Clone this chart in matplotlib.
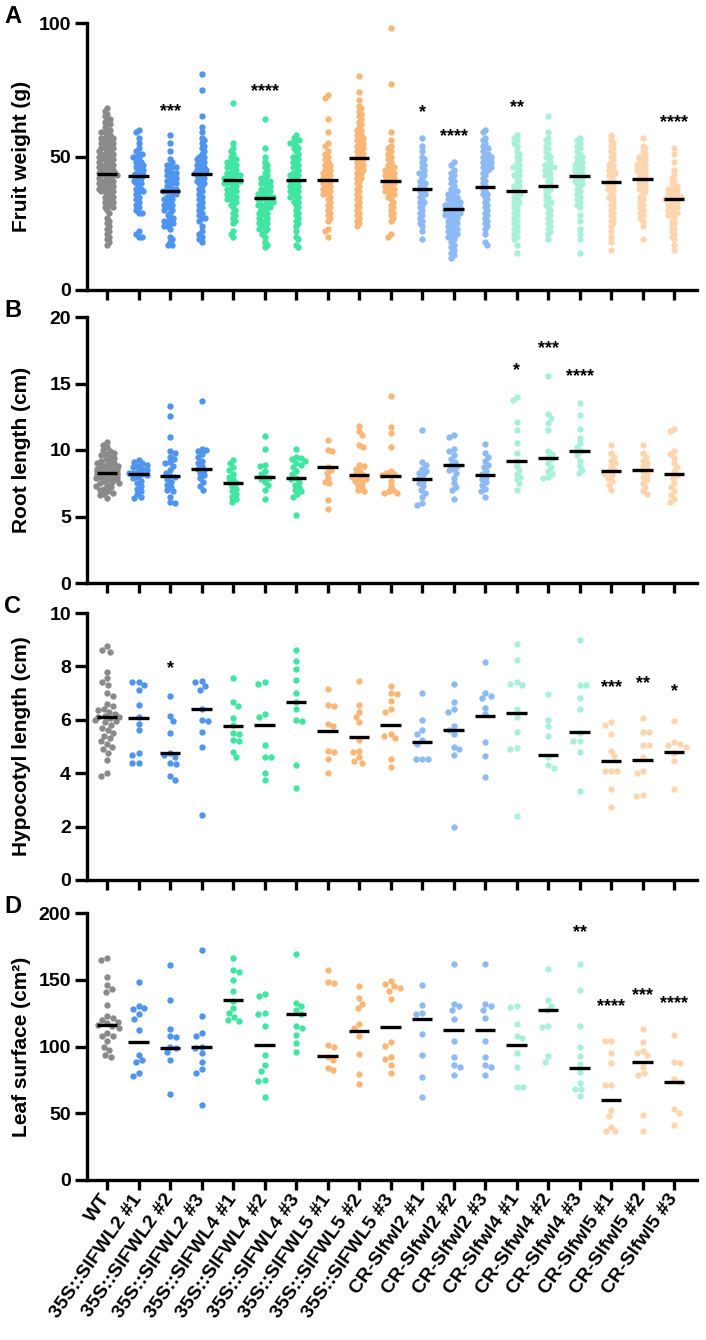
import numpy as np
import matplotlib
matplotlib.use("Agg")
import matplotlib.pyplot as plt

plt.rcParams['font.family'] = ['Liberation Sans', 'DejaVu Sans']
plt.rcParams['font.weight'] = 'bold'

categories = ['WT',
              '35S::SlFWL2 #1', '35S::SlFWL2 #2', '35S::SlFWL2 #3',
              '35S::SlFWL4 #1', '35S::SlFWL4 #2', '35S::SlFWL4 #3',
              '35S::SlFWL5 #1', '35S::SlFWL5 #2', '35S::SlFWL5 #3',
              'CR-Slfwl2 #1', 'CR-Slfwl2 #2', 'CR-Slfwl2 #3',
              'CR-Slfwl4 #1', 'CR-Slfwl4 #2', 'CR-Slfwl4 #3',
              'CR-Slfwl5 #1', 'CR-Slfwl5 #2', 'CR-Slfwl5 #3']

# ---------------- Panel A: fruit weight (g) ----------------
fruit_weight = [
    [68,67,66,65,64,64,63,62,62,61,60,60,59,59,58,58,57,57,57,56,56,55,55,55,54,54,53,53,53,52,52,52,51,51,51,50,50,50,
     49,49,49,48,48,48,47,47,47,46,46,46,45,45,45,44,44,44,44,43,43,43,43,42,42,42,41,41,41,40,40,40,39,39,39,38,38,38,
     37,37,37,36,36,35,35,34,34,33,33,32,32,31,31,30,29,27,26,25,24,23,22,21,20,19,18,17],
    [60,59,57,55,53,52,51,51,50,50,49,48,48,47,47,46,46,45,45,44,44,43,43,43,42,42,41,41,40,40,39,38,38,37,37,36,35,34,
     33,32,31,30,29,29,22,21,20,20],
    [58,55,52,49,48,47,47,46,46,45,45,44,44,43,43,42,42,41,41,40,40,39,39,38,38,37,37,37,36,36,35,35,34,34,33,33,32,32,
     31,31,30,30,29,28,27,27,26,26,25,25,24,24,23,20,19,18,17,17],
    [81,75,65,61,59,57,56,55,54,53,52,51,50,50,49,49,48,48,47,47,46,46,45,45,45,44,44,44,43,43,42,42,41,41,40,40,39,38,
     37,36,35,34,33,32,31,30,29,28,27,27,26,24,22,21,20,19,18],
    [70,55,53,52,51,50,49,49,48,48,47,47,46,46,45,45,44,44,43,43,43,42,42,42,41,41,41,40,40,40,39,39,38,38,37,37,36,36,
     35,35,34,34,33,33,32,31,30,29,28,27,26,25,22,21,20],
    [64,53,50,48,47,46,45,44,43,42,42,41,41,40,40,39,39,38,38,37,37,36,36,36,35,35,35,34,34,34,33,33,33,32,32,32,31,31,
     30,30,29,29,28,28,27,27,26,26,25,25,24,24,23,23,22,21,20,18,17,16],
    [58,57,56,56,55,55,54,53,53,52,51,50,50,49,48,48,47,46,46,45,44,44,43,43,42,42,41,41,40,40,39,39,38,38,37,37,36,36,
     35,35,34,33,33,32,31,30,29,28,27,26,25,24,22,20,19,17,16],
    [73,72,64,59,55,54,52,51,50,49,48,47,47,46,45,45,44,44,43,43,42,42,41,41,40,40,39,39,38,38,37,37,36,36,35,34,33,32,
     31,30,29,28,27,26,23,22,20],
    [80,74,71,69,68,67,66,65,64,63,62,61,60,60,59,58,58,57,57,56,56,55,55,54,54,53,53,52,52,51,51,50,50,49,49,48,48,47,
     47,46,46,45,45,44,44,43,42,42,41,40,39,38,37,36,35,34,33,32,31,30,29,28,27,26,25,24],
    [98,77,59,56,54,53,52,51,50,49,48,47,46,46,45,45,44,44,43,43,42,42,41,41,40,40,39,39,38,38,37,37,36,36,35,34,33,32,
     31,30,29,28,27,26,21,20],
    [57,54,52,50,49,48,47,46,45,44,44,43,42,41,40,40,39,38,38,37,36,36,35,34,33,33,32,31,30,29,28,27,26,25,24,22,19],
    [48,47,45,44,43,42,41,40,39,38,37,37,36,36,35,35,34,34,33,33,33,32,32,32,31,31,31,30,30,30,29,29,29,28,28,28,27,27,
     26,26,25,25,24,24,23,23,22,22,21,21,20,20,19,18,17,16,15,14,13,12],
    [60,59,57,56,55,54,53,53,52,51,51,50,50,49,49,48,48,47,47,46,46,45,45,44,43,42,41,40,39,38,37,36,36,35,34,33,32,31,
     30,29,28,27,26,25,24,23,21,18,17],
    [58,57,56,55,54,52,51,50,49,48,47,46,46,45,44,43,43,42,41,40,39,39,38,37,36,36,35,34,33,33,32,31,30,29,28,27,26,25,
     24,23,22,21,20,19,17,14],
    [65,59,57,56,55,54,53,52,51,50,50,49,48,47,47,46,46,45,45,44,43,43,42,41,40,39,38,38,37,36,35,34,33,33,32,31,30,29,
     28,27,26,25,24,23,22,21,19],
    [57,56,55,54,53,52,51,50,50,49,48,48,47,47,46,46,45,45,44,44,43,43,42,42,41,41,40,40,39,38,37,36,35,34,33,32,31,28,
     26,23,21,19,14],
    [58,56,55,54,53,52,51,50,49,48,47,47,46,45,45,44,44,43,43,42,41,41,40,40,39,38,38,37,36,35,35,34,33,32,31,30,29,28,
     27,26,25,24,22,20,18,15],
    [57,54,53,52,51,50,50,49,48,48,47,47,46,46,45,45,44,44,43,42,42,41,40,40,39,38,38,37,36,35,34,33,32,31,30,29,28,27,
     26,24,19],
    [53,51,48,45,43,42,41,40,39,39,38,38,37,37,36,36,35,35,35,34,34,34,33,33,32,32,31,31,30,30,29,29,28,28,27,26,25,24,
     23,22,21,20,19,17,15],
]
fruit_center = [43.4, 42.6, 37.0, 43.6, 41.1, 34.6, 41.3, 41.3, 49.5, 40.7,
                38.0, 30.3, 38.7, 37.0, 38.9, 42.6, 40.5, 41.5, 34.0]
fruit_stars = {2: ('***', 67.0), 5: ('****', 74.2), 10: ('*', 66.5),
               11: ('****', 57.6), 13: ('**', 68.5), 18: ('****', 62.6)}

# ---------------- Panel B: root length (cm) ----------------
root_length = [
    [10.6,10.4,10.2,10.0,9.9,9.8,9.7,9.6,9.5,9.4,9.3,9.2,9.1,9.0,9.0,8.9,8.8,8.8,8.7,8.6,8.6,8.5,8.5,8.4,8.4,8.3,8.3,8.3,
     8.2,8.2,8.1,8.1,8.0,8.0,7.9,7.9,7.8,7.8,7.7,7.6,7.5,7.5,7.4,7.3,7.2,7.1,7.0,6.9,6.8,6.7,6.6,6.4],
    [9.25,9.1,9.0,8.9,8.8,8.7,8.6,8.5,8.4,8.3,8.25,8.2,8.1,8.0,7.9,7.7,7.5,7.3,7.1,6.9,6.7,6.5,6.4],
    [13.3,12.55,10.95,9.9,9.8,9.5,9.3,9.1,9.0,8.8,8.5,8.3,8.05,8.0,7.8,7.6,7.4,7.2,7.0,6.9,6.5,6.1,6.0],
    [13.7,10.1,10.0,9.9,9.7,9.5,9.2,9.0,8.8,8.6,8.5,8.3,8.1,7.9,7.6,7.3,7.0],
    [9.25,9.0,8.7,8.5,8.2,8.0,7.8,7.6,7.5,7.3,7.1,6.9,6.7,6.5,6.3,6.1],
    [11.05,10.1,8.9,8.8,8.4,8.2,8.0,7.9,7.8,7.6,7.4,7.0,6.3],
    [10.1,9.5,9.4,9.3,9.2,9.0,8.9,8.7,8.4,8.2,7.9,7.8,7.6,7.4,7.2,7.0,6.9,6.7,6.5,5.1],
    [10.75,10.0,9.9,8.75,8.5,8.3,7.9,7.6,7.5,6.25,5.6],
    [11.8,11.4,11.1,10.4,10.25,8.9,8.8,8.6,8.4,8.2,8.1,8.0,7.9,7.8,7.7,7.6,7.4,7.2,7.0,6.9],
    [14.05,11.7,11.25,10.2,8.4,8.3,8.2,8.1,7.7,7.3,7.0,6.9,6.8,6.75],
    [11.5,9.1,8.9,8.6,8.4,8.3,8.1,7.9,7.7,7.5,7.3,7.0,6.8,6.5,6.0,5.9],
    [11.1,11.0,10.05,9.9,9.6,9.3,9.1,8.9,8.8,8.6,8.5,8.3,7.9,7.5,7.2,7.0,6.3],
    [10.45,9.75,9.5,9.2,8.9,8.7,8.4,8.2,8.0,7.8,7.6,7.4,7.1,6.9,6.5],
    [14.0,13.75,12.1,11.5,10.5,9.8,9.2,8.8,8.5,8.2,8.0,7.8,7.5,7.0],
    [15.6,12.7,12.4,12.0,11.5,9.9,9.7,9.5,9.3,9.0,8.7,8.4,8.2,8.0,7.9],
    [13.5,12.6,11.6,10.9,10.5,10.2,9.9,9.6,9.2,8.8,8.5,8.25],
    [10.4,9.75,9.5,9.2,9.0,8.8,8.5,8.4,8.3,8.1,7.9,7.7,7.4,7.0],
    [10.4,9.75,9.5,9.2,9.0,8.8,8.6,8.4,8.2,8.0,7.8,7.5,7.2,6.9,6.7],
    [11.55,11.4,9.9,9.7,9.4,9.0,8.7,8.4,8.1,7.9,7.5,7.2,6.9,6.6,6.3,6.1],
]
root_center = [8.3, 8.2, 8.05, 8.6, 7.55, 7.95, 7.9, 8.7, 8.15, 8.05,
               7.85, 8.9, 8.1, 9.15, 9.4, 9.9, 8.45, 8.5, 8.2]
root_stars = {13: ('*', 16.0), 14: ('***', 17.6), 15: ('****', 15.5)}

# ---------------- Panel C: hypocotyl length (cm) ----------------
hypocotyl_length = [
    [8.75,8.6,8.55,7.8,7.55,7.4,7.3,7.0,6.9,6.6,6.5,6.4,6.35,6.3,6.2,6.15,6.1,6.1,6.05,6.0,5.95,5.9,5.8,5.7,5.6,5.5,5.4,
     5.3,5.2,5.1,5.0,4.9,4.75,4.5,4.0,3.9],
    [7.4,7.4,7.3,7.1,6.55,6.1,5.85,5.6,4.75,4.7,4.4,4.4],
    [6.9,6.15,5.95,5.5,4.75,4.7,4.6,4.4,4.35,3.9,3.75],
    [7.45,7.4,7.25,7.1,6.4,6.0,5.95,5.55,5.0,2.45],
    [7.55,6.65,6.5,6.05,5.8,5.5,5.45,5.25,5.2,4.8,4.6],
    [7.4,7.35,6.2,6.1,5.05,4.6,4.6,4.0,3.75],
    [8.6,8.2,7.9,7.5,7.0,6.65,6.4,6.0,5.95,4.3,3.45],
    [7.15,6.55,6.5,5.85,5.75,4.85,4.8,4.55,4.0],
    [7.45,6.55,6.3,6.1,5.9,5.25,4.85,4.8,4.6,4.45,4.4],
    [7.25,7.0,6.95,6.7,6.4,6.3,5.45,5.4,5.3,4.55,4.25],
    [7.0,6.0,5.6,5.45,5.25,5.1,4.55,4.55,4.55],
    [7.35,6.65,6.4,6.3,5.75,5.6,5.45,5.0,4.9,4.7,2.0],
    [8.15,7.0,6.9,6.8,6.45,6.2,5.15,4.65,3.85],
    [8.85,8.25,7.4,7.35,7.3,6.4,6.1,5.55,4.95,4.9,2.4],
    [6.95,6.0,5.75,5.4,4.6,4.3,4.2],
    [9.0,7.3,7.3,6.8,6.4,5.5,5.2,5.2,4.8,3.35],
    [5.9,5.8,5.45,4.85,4.65,4.1,4.1,4.1,3.4,2.75],
    [6.05,5.55,5.55,5.05,5.05,4.6,4.1,4.0,3.2,3.15],
    [5.95,5.15,5.1,5.05,5.0,4.75,4.45,3.4],
]
hypocotyl_center = [6.12, 6.08, 4.75, 6.4, 5.78, 5.82, 6.67, 5.57, 5.35, 5.8,
                    5.15, 5.6, 6.15, 6.27, 4.7, 5.55, 4.45, 4.5, 4.78]
hypocotyl_stars = {2: ('*', 7.9), 16: ('***', 7.2), 17: ('**', 7.35), 18: ('*', 7.05)}

# ---------------- Panel D: leaf surface (cm2) ----------------
leaf_surface = [
    [166,164.5,152,146,143,141,131,122.5,121,120,118,117.5,116,115,114,110,108,107.5,104,100,97.5,94,92.5],
    [148,130.5,129,128,124,120.5,112.5,93.75,90,88.75,80.5,78],
    [160.75,135,113,108,107,100,99,96,90,64.5],
    [172,122.5,110,108,100,99,95,88.75,83,80.5,56],
    [166,157.5,156,150,141.75,133.75,128.75,125,122,120,118.75],
    [139.5,138,125,124,115.5,93.75,86,82,75,74,62.5],
    [169.5,132.5,130,127.5,124.5,115.5,113.75,108.75,102.5,96.25],
    [157,148,147.5,101.25,100,92.5,90,84,82.5],
    [145,136,132,128.75,117,114,107.5,94.5,79.5,72],
    [149,147,145,144,141.75,135.5,103,100.5,92.5,91,86,80.5],
    [146,131,125,124.5,109,93.75,77.5,62],
    [162,132,130.5,127.5,120.5,103.75,92.5,86,85,78.75],
    [162,132,130,127.5,121,104,92.5,86.5,85,79],
    [130,129.5,117,108,106.5,95.5,85,70,69.5],
    [158,134.5,130.5,127,115.5,114.5,93,88.75],
    [162,142.5,115,99.5,93.25,86.75,81,72.5,68,68,63],
    [104,103.75,95,88,71.25,71,52.5,48,40,37,36.5],
    [113,103,97,95,93.75,84.5,80,78.75,49,37],
    [108.25,88.75,88,75.5,73.75,53,50,41],
]
leaf_center = [115.75, 103.25, 99.25, 100, 134.5, 101, 124, 93.25, 111.75, 114.5,
               120.25, 112, 112, 101.25, 127.5, 84.25, 60, 88.25, 73.75]
leaf_stars = {15: ('**', 185), 16: ('****', 130), 17: ('***', 138), 18: ('****', 132)}

# ---------------- styling ----------------
GRAY, BLUE, GREEN, ORANGE = '#8a8a8a', '#4f95ef', '#3fe5a0', '#f9b675'
LBLUE, MINT, PEACH = '#8dbaf3', '#a9f0d8', '#fdd5ae'
group_colors = [GRAY] + [BLUE] * 3 + [GREEN] * 3 + [ORANGE] * 3 + [LBLUE] * 3 + [MINT] * 3 + [PEACH] * 3

W, H = 706, 1340
LEFT, RIGHT = 87, 697
XMIN, XMAX = -0.635, 18.73
PX_PER_X = (RIGHT - LEFT) / (XMAX - XMIN)


def swarm_offsets(vals, px_per_y, dmin, max_px):
    vals = np.asarray(vals, float)
    ys = vals * px_per_y
    order = np.argsort(-ys, kind='stable')
    placed = []
    offs = np.zeros(len(vals))
    toggle = 1
    for i in order:
        y = ys[i]
        intervals = []
        cands = [0.0]
        for (xj, yj) in placed:
            dy = abs(y - yj)
            if dy < dmin:
                dx = np.sqrt(dmin ** 2 - dy ** 2)
                intervals.append((xj - dx, xj + dx))
                cands += [xj - dx, xj + dx]
        valid = [c for c in cands
                 if all(not (a + 1e-6 < c < b - 1e-6) for a, b in intervals)]
        valid.sort(key=lambda c: (round(abs(c), 4), -toggle * c))
        best = valid[0]
        if abs(best) > max_px:
            # too crowded: fold back inside the allowed width
            best = np.sign(best) * (max_px - (abs(best) - max_px) % max_px)
        toggle = -toggle
        offs[i] = best
        placed.append((best, y))
    return offs / PX_PER_X


panels = [
    dict(letter='A', top=23, bottom=290, data=fruit_weight, center=fruit_center, stars=fruit_stars,
         ymax=100, yticks=[0, 50, 100], ylabel='Fruit weight (g)', dmin=3.4, maxpx=11),
    dict(letter='B', top=317, bottom=583, data=root_length, center=root_center, stars=root_stars,
         ymax=20, yticks=[0, 5, 10, 15, 20], ylabel='Root length (cm)', dmin=4.8, maxpx=12),
    dict(letter='C', top=613, bottom=880, data=hypocotyl_length, center=hypocotyl_center,
         stars=hypocotyl_stars, ymax=10, yticks=[0, 2, 4, 6, 8, 10],
         ylabel='Hypocotyl length (cm)', dmin=6.3, maxpx=13),
    dict(letter='D', top=913, bottom=1180, data=leaf_surface, center=leaf_center, stars=leaf_stars,
         ymax=200, yticks=[0, 50, 100, 150, 200], ylabel='Leaf surface (cm²)', dmin=6.3, maxpx=13),
]

fig = plt.figure(figsize=(W / 100, H / 100), dpi=100)
LW = 2.4

for k, p in enumerate(panels):
    ax = fig.add_axes([LEFT / W, 1 - p['bottom'] / H, (RIGHT - LEFT) / W, (p['bottom'] - p['top']) / H])
    px_per_y = (p['bottom'] - p['top']) / p['ymax']
    for i, vals in enumerate(p['data']):
        offs = swarm_offsets(vals, px_per_y, p['dmin'], p['maxpx'])
        ax.scatter(i + offs, vals, s=21, color=group_colors[i], linewidths=0, zorder=2, clip_on=False)
        ax.hlines(p['center'][i], i - 0.33, i + 0.33, color='black', lw=2.4, zorder=3)
    for i, (txt, yv) in p['stars'].items():
        ax.text(i, yv, txt, ha='center', va='center', fontsize=13, fontweight='bold', zorder=4)
    ax.set_xlim(XMIN, XMAX)
    ax.set_ylim(0, p['ymax'])
    ax.set_yticks(p['yticks'])
    ax.set_xticks(range(len(categories)))
    for s in ['top', 'right']:
        ax.spines[s].set_visible(False)
    for s in ['left', 'bottom']:
        ax.spines[s].set_linewidth(LW)
    ax.tick_params(axis='y', direction='out', width=LW, length=8.5, labelsize=14, pad=3)
    ax.tick_params(axis='x', direction='out', width=LW, length=7.5, pad=4)
    for lab in ax.get_yticklabels():
        lab.set_fontweight('bold')
    if k < 3:
        ax.tick_params(axis='x', labelbottom=False)
    else:
        ax.set_xticklabels(categories, rotation=55, ha='right', va='center',
                           rotation_mode='anchor', fontsize=14, fontweight='bold')
    ax.text((22 - LEFT) / (RIGHT - LEFT), 0.5, p['ylabel'], transform=ax.transAxes, rotation=90,
            ha='center', va='center', fontsize=15, fontweight='bold')
    fig.text(4 / W, 1 - (p['top'] - 18) / H, p['letter'], ha='left', va='top', fontsize=17, fontweight='bold')

fig.savefig('out.png', dpi=100)
